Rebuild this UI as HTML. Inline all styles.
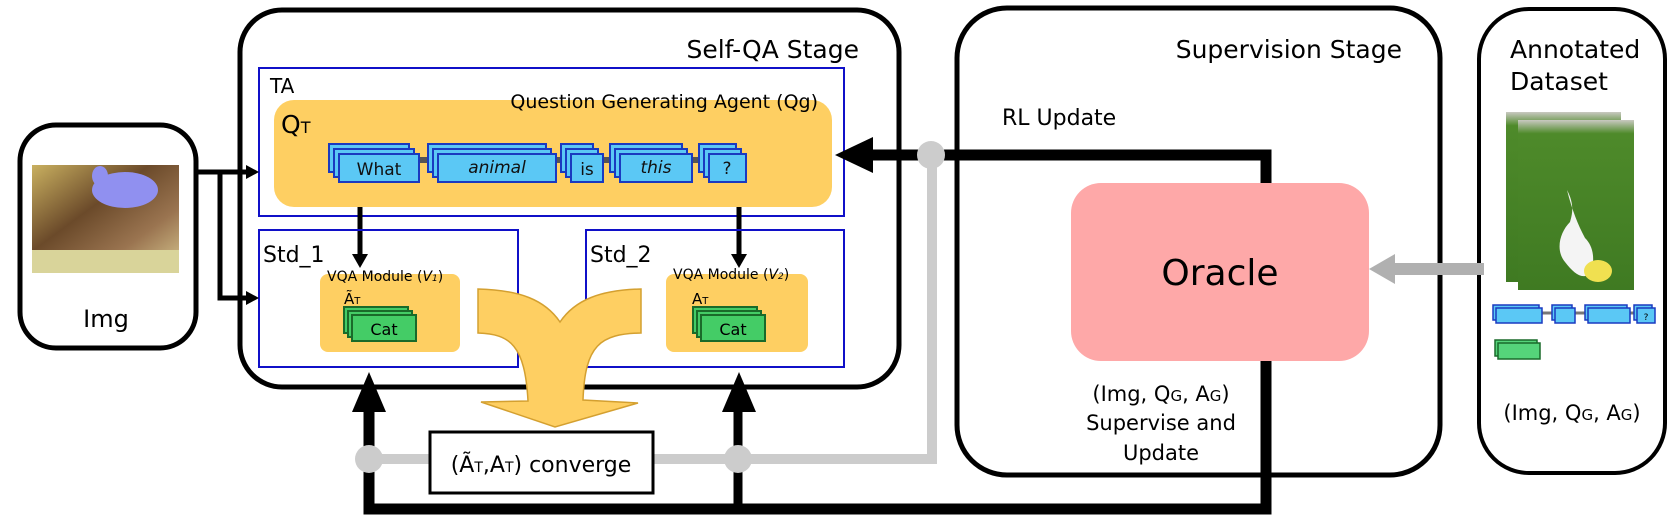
<!DOCTYPE html>
<html><head><meta charset="utf-8"><style>html,body{margin:0;padding:0;background:#fff}svg{display:block}text{font-family:"DejaVu Sans","Liberation Sans",sans-serif}</style></head>
<body>
<svg width="1670" height="520" viewBox="0 0 1670 520" xmlns="http://www.w3.org/2000/svg">
<defs>
<linearGradient id="cat" x1="0" y1="0" x2="1" y2="1">
<stop offset="0" stop-color="#c9b060"/><stop offset="0.4" stop-color="#6b4a2a"/><stop offset="0.7" stop-color="#9a7450"/><stop offset="1" stop-color="#d8c890"/></linearGradient>
<linearGradient id="grass" x1="0" y1="0" x2="0" y2="1"><stop offset="0" stop-color="#c9c9c0"/><stop offset="0.08" stop-color="#4e8a2a"/><stop offset="1" stop-color="#3f7a22"/></linearGradient>
</defs>

<!-- Img box -->
<rect x="20" y="125" width="176" height="223" rx="36" fill="#fff" stroke="#000" stroke-width="5"/>
<rect x="32" y="165" width="147" height="108" fill="url(#cat)"/>
<rect x="32" y="250" width="147" height="23" fill="#d9d49a"/>
<ellipse cx="125" cy="190" rx="33" ry="18" fill="#9090f0"/>
<ellipse cx="100" cy="176" rx="8" ry="10" fill="#9090f0"/>
<text x="106" y="327" font-size="24" text-anchor="middle">Img</text>

<!-- Self-QA box -->
<rect x="240" y="10" width="659" height="377" rx="42" fill="#fff" stroke="#000" stroke-width="5"/>
<text x="859" y="58" font-size="25" text-anchor="end">Self-QA Stage</text>

<!-- TA -->
<rect x="259" y="68" width="585" height="148" fill="none" stroke="#1010c8" stroke-width="2"/>
<text x="270" y="93" font-size="20">TA</text>
<rect x="274" y="100" width="558" height="107" rx="20" fill="#fecf62"/>
<text x="818" y="108" font-size="19" text-anchor="end">Question Generating Agent (Qg)</text>
<text x="281" y="133" font-size="25">Q<tspan font-size="16">T</tspan></text>

<g stroke="#1a3ac0" stroke-width="2" fill="#5bc8f5">
<line x1="419" y1="160" x2="432" y2="160" stroke="#555" stroke-width="6"/>
<line x1="556" y1="160" x2="566" y2="160" stroke="#555" stroke-width="6"/>
<line x1="603" y1="160" x2="614" y2="160" stroke="#555" stroke-width="6"/>
<line x1="692" y1="160" x2="703" y2="160" stroke="#555" stroke-width="6"/>
<rect x="329" y="144" width="80" height="28"/><rect x="334" y="149" width="80" height="28"/><rect x="339" y="154" width="80" height="28"/>
<rect x="428" y="144" width="118" height="28"/><rect x="433" y="149" width="118" height="28"/><rect x="438" y="154" width="118" height="28"/>
<rect x="561" y="144" width="32" height="28"/><rect x="566" y="149" width="32" height="28"/><rect x="571" y="154" width="32" height="28"/>
<rect x="610" y="144" width="72" height="28"/><rect x="615" y="149" width="72" height="28"/><rect x="620" y="154" width="72" height="28"/>
<rect x="699" y="144" width="37" height="28"/><rect x="704" y="149" width="37" height="28"/><rect x="709" y="154" width="37" height="28"/>
</g>
<g font-size="17" fill="#111" text-anchor="middle">
<text x="379" y="175">What</text>
<text x="497" y="173" font-style="italic">animal</text>
<text x="587" y="175">is</text>
<text x="656" y="173" font-style="italic">this</text>
<text x="727" y="174">?</text>
</g>

<!-- down arrows -->
<line x1="360" y1="207" x2="360" y2="258" stroke="#000" stroke-width="5"/>
<polygon points="352,254 368,254 360,268" fill="#000"/>
<line x1="739" y1="207" x2="739" y2="258" stroke="#000" stroke-width="5"/>
<polygon points="731,254 747,254 739,268" fill="#000"/>

<!-- Std boxes -->
<rect x="259" y="230" width="259" height="137" fill="none" stroke="#1010c8" stroke-width="2"/>
<rect x="586" y="230" width="258" height="137" fill="none" stroke="#1010c8" stroke-width="2"/>
<text x="263" y="262" font-size="22">Std_1</text>
<text x="590" y="262" font-size="22">Std_2</text>

<rect x="320" y="274" width="140" height="78" rx="8" fill="#fecf62"/>
<rect x="666" y="274" width="142" height="78" rx="8" fill="#fecf62"/>
<text x="327" y="281" font-size="14">VQA Module (<tspan font-style="italic">V</tspan><tspan font-size="9" font-style="italic">1</tspan>)</text>
<text x="673" y="279" font-size="14">VQA Module (<tspan font-style="italic">V</tspan><tspan font-size="9" font-style="italic">2</tspan>)</text>
<text x="344" y="304" font-size="15">Ã<tspan font-size="10">T</tspan></text>
<text x="692" y="304" font-size="15">A<tspan font-size="10">T</tspan></text>
<g stroke="#1a6a2a" stroke-width="2" fill="#44cc66">
<rect x="344" y="307" width="64" height="26"/><rect x="348" y="311" width="64" height="26"/><rect x="352" y="315" width="64" height="26"/>
<rect x="693" y="307" width="64" height="26"/><rect x="697" y="311" width="64" height="26"/><rect x="701" y="315" width="64" height="26"/>
</g>
<text x="384" y="335" font-size="16" text-anchor="middle">Cat</text>
<text x="733" y="335" font-size="16" text-anchor="middle">Cat</text>

<!-- Img arrows -->
<line x1="196" y1="172" x2="250" y2="172" stroke="#000" stroke-width="5"/>
<polygon points="246,165 259,172 246,179" fill="#000"/>
<polyline points="220,172 220,298 250,298" fill="none" stroke="#000" stroke-width="5"/>
<polygon points="246,291 259,298 246,305" fill="#000"/>

<!-- Supervision box -->
<rect x="957" y="8" width="483" height="467" rx="50" fill="#fff" stroke="#000" stroke-width="5"/>
<text x="1402" y="58" font-size="25" text-anchor="end">Supervision Stage</text>
<text x="1002" y="125" font-size="22">RL Update</text>

<!-- gray lines -->
<polyline points="369,459 932,459 932,157" fill="none" stroke="#cccccc" stroke-width="10"/>

<!-- black loop -->
<polyline points="869,155 1266,155 1266,509 369,509 369,405" fill="none" stroke="#000" stroke-width="11"/>
<line x1="738" y1="509" x2="738" y2="405" stroke="#000" stroke-width="9"/>
<polygon points="835,155 873,137 873,173" fill="#000"/>
<polygon points="352,412 386,412 369,372" fill="#000"/>
<polygon points="722,412 756,412 739,372" fill="#000"/>

<circle cx="931" cy="155" r="14" fill="#cccccc"/>
<circle cx="369" cy="459" r="14" fill="#cccccc"/>
<circle cx="738" cy="459" r="14" fill="#cccccc"/>

<!-- converge -->
<rect x="430" y="432" width="223" height="61" fill="#fff" stroke="#000" stroke-width="3"/>
<text x="541" y="472" font-size="22" text-anchor="middle">(Ã<tspan font-size="14">T</tspan>,A<tspan font-size="14">T</tspan>) converge</text>

<!-- Y arrow -->
<path d="M478,289 C520,290 545,300 560,322 C575,300 600,290 641,289 L641,333 C600,334 585,345 583,400 L638,403 L555,427 L481,402 L528,401 C525,345 510,334 478,333 Z" fill="#fecf62" stroke="#d4a030" stroke-width="1.5"/>

<!-- Oracle -->
<rect x="1071" y="183" width="298" height="178" rx="30" fill="#fea8a8"/>
<text x="1220" y="285" font-size="36" text-anchor="middle">Oracle</text>
<text x="1161" y="401" font-size="21" text-anchor="middle">(Img, Q<tspan font-size="15">G</tspan>, A<tspan font-size="15">G</tspan>)</text>
<text x="1161" y="430" font-size="21" text-anchor="middle">Supervise and</text>
<text x="1161" y="460" font-size="21" text-anchor="middle">Update</text>

<!-- Annotated -->
<rect x="1479" y="9" width="186" height="464" rx="50" fill="#fff" stroke="#000" stroke-width="4"/>
<text x="1510" y="58" font-size="25">Annotated</text>
<text x="1510" y="90" font-size="25">Dataset</text>
<rect x="1506" y="112" width="115" height="170" fill="url(#grass)"/>
<rect x="1518" y="120" width="116" height="170" fill="url(#grass)"/>
<path d="M1567,190 C1575,205 1572,215 1570,222 C1560,232 1555,250 1565,262 C1575,275 1585,282 1592,270 C1595,255 1592,245 1585,238 C1578,225 1572,210 1567,190Z" fill="#f4f4f4"/>
<ellipse cx="1598" cy="271" rx="14" ry="11" fill="#f0e050"/>
<line x1="1440" y1="269" x2="1484" y2="269" stroke="#b0b0b0" stroke-width="12"/>
<line x1="1392" y1="269" x2="1442" y2="269" stroke="#b0b0b0" stroke-width="12"/>
<polygon points="1369,269 1395,254 1395,284" fill="#b0b0b0"/>
<g stroke="#1a3ac0" stroke-width="1.5" fill="#5bc8f5">
<line x1="1540" y1="313" x2="1650" y2="313" stroke="#777" stroke-width="3"/>
<rect x="1493" y="305" width="46" height="15"/><rect x="1496" y="308" width="46" height="15"/>
<rect x="1552" y="305" width="20" height="15"/><rect x="1555" y="308" width="20" height="15"/>
<rect x="1585" y="305" width="42" height="15"/><rect x="1588" y="308" width="42" height="15"/>
<rect x="1634" y="305" width="18" height="15"/><rect x="1637" y="308" width="18" height="15"/>
</g>
<text x="1646" y="320" font-size="9" text-anchor="middle">?</text>
<g stroke="#1a6a2a" stroke-width="1.5" fill="#55d47a">
<rect x="1495" y="340" width="42" height="16"/><rect x="1498" y="343" width="42" height="16"/>
</g>
<text x="1572" y="420" font-size="21" text-anchor="middle">(Img, Q<tspan font-size="15">G</tspan>, A<tspan font-size="15">G</tspan>)</text>
</svg>
</body></html>
